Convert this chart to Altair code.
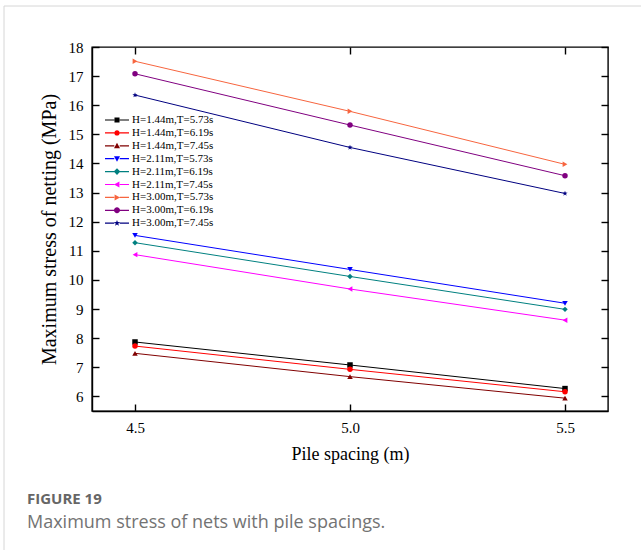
import altair as alt
import pandas as pd

# Pile spacing (m) and maximum netting stress (MPa) for each wave case
spacing = [4.5, 5.0, 5.5]

series_names = [
    "H=1.44m,T=5.73s",
    "H=1.44m,T=6.19s",
    "H=1.44m,T=7.45s",
    "H=2.11m,T=5.73s",
    "H=2.11m,T=6.19s",
    "H=2.11m,T=7.45s",
    "H=3.00m,T=5.73s",
    "H=3.00m,T=6.19s",
    "H=3.00m,T=7.45s",
]

h144_t573 = [7.87, 7.08, 6.27]
h144_t619 = [7.73, 6.93, 6.16]
h144_t745 = [7.48, 6.68, 5.94]
h211_t573 = [11.53, 10.36, 9.20]
h211_t619 = [11.28, 10.12, 8.99]
h211_t745 = [10.87, 9.69, 8.62]
h300_t573 = [17.51, 15.79, 13.97]
h300_t619 = [17.08, 15.32, 13.58]
h300_t745 = [16.35, 14.55, 12.97]

all_series = [h144_t573, h144_t619, h144_t745,
              h211_t573, h211_t619, h211_t745,
              h300_t573, h300_t619, h300_t745]

x_tick_values = [4.5, 5.0, 5.5]
y_tick_values = list(range(6, 19))

caption_label = "FIGURE 19"
caption_text = "Maximum stress of nets with pile spacings."

rows = []
for name, values in zip(series_names, all_series):
    for s, v in zip(spacing, values):
        rows.append({"series": name, "spacing": s, "stress": v})
df = pd.DataFrame(rows)

colors = ["#000000", "#ff0000", "#800000", "#0000ff", "#008080",
          "#ff00ff", "#f7653f", "#800080", "#000080"]

star = ("M0,-1L0.235,-0.324L0.951,-0.309L0.38,0.124L0.588,0.809L0,0.4"
        "L-0.588,0.809L-0.38,0.124L-0.951,-0.309L-0.235,-0.324Z")
point_shapes = ["square", "circle", "triangle-up", "triangle-down", "diamond",
                "triangle-left", "triangle-right", "circle", star]

# legend glyphs: short line segments either side of the marker
seg = "M-2,-0.1L-0.45,-0.1L-0.45,0.1L-2,0.1ZM0.45,-0.1L2,-0.1L2,0.1L0.45,0.1Z"
legend_shapes = [
    seg + "M-0.42,-0.42L0.42,-0.42L0.42,0.42L-0.42,0.42Z",
    seg + "M0.45,0A0.45,0.45,0,1,1,-0.45,0A0.45,0.45,0,1,1,0.45,0Z",
    seg + "M0,-0.5L0.5,0.4L-0.5,0.4Z",
    seg + "M0,0.5L0.5,-0.4L-0.5,-0.4Z",
    seg + "M0,-0.55L0.55,0L0,0.55L-0.55,0Z",
    seg + "M-0.5,0L0.4,-0.5L0.4,0.5Z",
    seg + "M0.5,0L-0.4,-0.5L-0.4,0.5Z",
    seg + "M0.5,0A0.5,0.5,0,1,1,-0.5,0A0.5,0.5,0,1,1,0.5,0Z",
    seg + "M0,-0.55L0.13,-0.18L0.52,-0.17L0.21,0.07L0.32,0.44L0,0.22"
          "L-0.32,0.44L-0.21,0.07L-0.52,-0.17L-0.13,-0.18Z",
]

SERIF = "Liberation Serif"
SANS = "Open Sans"
x_scale = alt.Scale(domain=[4.4, 5.6], nice=False, zero=False)
y_scale = alt.Scale(domain=[5.5, 18], nice=False, zero=False)

main_x_axis = alt.Axis(
    orient="bottom", values=x_tick_values, format=".1f", grid=False,
    ticks=False, tickSize=0, domainColor="black", domainWidth=1.4,
    labelFont=SERIF, labelFontSize=15, labelColor="black", labelPadding=9,
    title="Pile  spacing (m)", titleFont=SERIF, titleFontSize=18,
    titleFontWeight="normal", titleColor="black", titleY=48,
    titleBaseline="alphabetic",
)
main_y_axis = alt.Axis(
    orient="left", values=y_tick_values, grid=False, ticks=False, tickSize=0,
    domainColor="black", domainWidth=1.4,
    labelFont=SERIF, labelFontSize=15, labelColor="black", labelPadding=9,
    title="Maximum stress of netting (MPa)", titleFont=SERIF, titleFontSize=20,
    titleFontWeight="normal", titleColor="black", titleAngle=-90,
    titleX=-37, titleY=182, titleBaseline="alphabetic", titleAlign="center",
)


def inner_ticks(orient, values):
    # tick marks only, pointing into the plot
    return alt.Axis(orient=orient, values=values, labels=False, domain=False,
                    grid=False, ticks=True, tickSize=7, tickWidth=1.4,
                    tickColor="black", offset=-7, title=None)


base = alt.Chart(df)

lines = base.mark_line(strokeWidth=1).encode(
    x=alt.X("spacing:Q", scale=x_scale, axis=main_x_axis),
    y=alt.Y("stress:Q", scale=y_scale, axis=main_y_axis),
    color=alt.Color("series:N", scale=alt.Scale(domain=series_names, range=colors), legend=None),
)

points = base.mark_point(filled=True, size=30, opacity=1).encode(
    x=alt.X("spacing:Q", scale=x_scale, axis=inner_ticks("top", x_tick_values)),
    y=alt.Y("stress:Q", scale=y_scale, axis=inner_ticks("right", y_tick_values)),
    color=alt.Color("series:N", scale=alt.Scale(domain=series_names, range=colors), legend=None),
    shape=alt.Shape("series:N", scale=alt.Scale(domain=series_names, range=point_shapes), legend=None),
)

legend_def = dict(
    orient="none", legendX=19, legendY=67, title=None, symbolSize=144,
    symbolStrokeWidth=0, symbolOpacity=1, labelFont=SERIF, labelFontSize=11,
    labelColor="black", labelOffset=9, rowPadding=1.9, padding=0,
)
key = base.mark_point(filled=True, opacity=0).encode(
    x=alt.X("spacing:Q", scale=x_scale, axis=inner_ticks("bottom", x_tick_values)),
    y=alt.Y("stress:Q", scale=y_scale, axis=inner_ticks("left", y_tick_values)),
    color=alt.Color("series:N", scale=alt.Scale(domain=series_names, range=colors),
                    legend=alt.Legend(**legend_def)),
    shape=alt.Shape("series:N", scale=alt.Scale(domain=series_names, range=legend_shapes),
                    legend=alt.Legend(**legend_def)),
)

frame_df = pd.DataFrame({"k": [0]})
card_left = alt.Chart(frame_df).mark_rule(color="#d6d6d6", strokeWidth=1).encode(
    x=alt.value(-88), y=alt.value(-41), y2=alt.value(503))
card_top = alt.Chart(frame_df).mark_rule(color="#d6d6d6", strokeWidth=1).encode(
    x=alt.value(-88), x2=alt.value(549), y=alt.value(-41))

fig_label = alt.Chart(pd.DataFrame({"t": [caption_label]})).mark_text(
    font=SANS, fontSize=15, fontWeight="bold", color="#666666",
    align="left", baseline="alphabetic",
).encode(text="t:N", x=alt.value(-65), y=alt.value(457))

fig_caption = alt.Chart(pd.DataFrame({"t": [caption_text]})).mark_text(
    font=SANS, fontSize=18, color="#737373", align="left", baseline="alphabetic",
).encode(text="t:N", x=alt.value(-65), y=alt.value(481))

chart = (
    alt.layer(card_left, card_top, lines, points, key, fig_label, fig_caption)
    .resolve_scale(color="independent", shape="independent")
    .resolve_axis(x="independent", y="independent")
    .properties(
        width=516, height=364, background="white",
        autosize=alt.AutoSizeParams(type="none"),
        padding={"left": 92, "top": 47, "right": 33, "bottom": 139},
    )
    .configure_view(stroke="black", strokeWidth=1.4)
)

chart.save("out.html", embed_options={"renderer": "svg", "actions": False})
